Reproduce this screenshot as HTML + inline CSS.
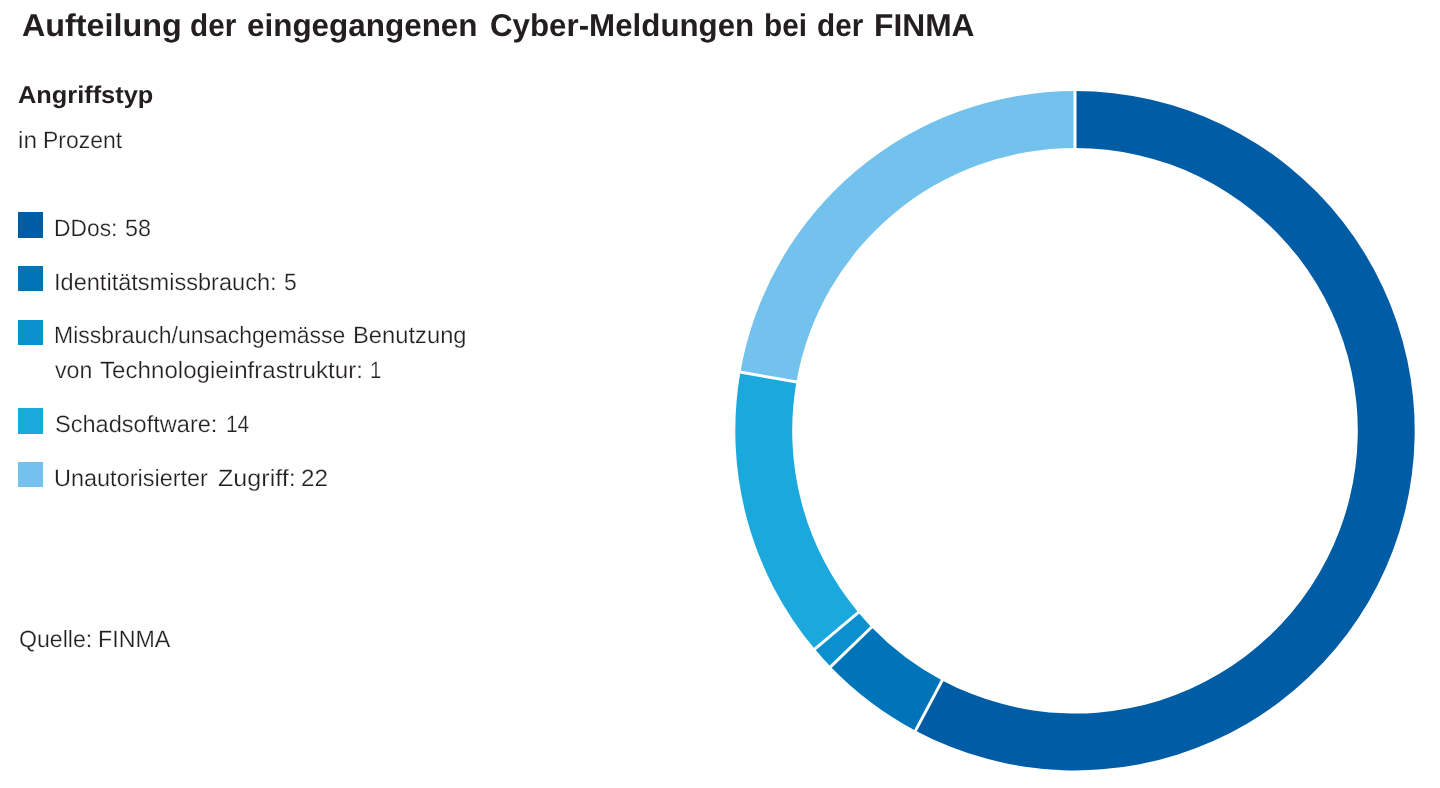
<!DOCTYPE html>
<html lang="de">
<head>
<meta charset="utf-8">
<title>Aufteilung der eingegangenen Cyber-Meldungen bei der FINMA</title>
<style>
html,body{margin:0;padding:0;background:#fff;}
body{width:1440px;height:788px;position:relative;overflow:hidden;color:#231f20;
  font-family:"Liberation Sans",sans-serif;text-rendering:geometricPrecision;}
.t{position:absolute;left:0;width:720px;height:40px;margin:0;white-space:nowrap;line-height:1;
  font-size:23.5px;font-weight:normal;}
.t span{position:absolute;top:0;transform-origin:0 0;white-space:nowrap;-webkit-text-stroke:0.25px #fff;paint-order:fill stroke;}
.tt span,.tb span{-webkit-text-stroke:0;}
.tt{font-size:31.5px;font-weight:bold;width:1000px;}
.tb{font-size:24.3px;font-weight:bold;}
.sw{position:absolute;left:18px;width:25px;height:25px;}
svg{position:absolute;left:0;top:0;}
</style>
</head>
<body>
<h1 class="t tt" id="title" style="top:10.0px"><span style="left:21.73px;transform:scaleX(1.0261)">Aufteilung</span> <span style="left:189.57px;transform:scaleX(0.9421)">der</span> <span style="left:247.00px;transform:scaleX(0.9978)">eingegangenen</span> <span style="left:489.51px;transform:scaleX(0.9933)">Cyber-Meldungen</span> <span style="left:764.36px;transform:scaleX(0.9458)">bei</span> <span style="left:816.57px;transform:scaleX(0.9421)">der</span> <span style="left:873.73px;transform:scaleX(1.0077)">FINMA</span></h1>
<div class="t tb" id="sub" style="top:84.0px"><span style="left:18.22px;transform:scaleX(1.0437)">Angriffstyp</span></div>
<div class="t" id="unit" style="top:128.8px"><span style="left:18.14px;transform:scaleX(1.0387)">in</span> <span style="left:43.29px;transform:scaleX(0.9779)">Prozent</span></div>
<div class="sw" style="top:212px;height:26px;background:#005CA4"></div>
<div class="t" id="l1" style="top:216.8px"><span style="left:54.26px;transform:scaleX(0.9714)">DDos:</span> <span style="left:125.41px;transform:scaleX(0.9938)">58</span></div>
<div class="sw" style="top:266px;height:25px;background:#0074B8"></div>
<div class="t" id="l2" style="top:270.8px"><span style="left:53.96px;transform:scaleX(1.0025)">Identitätsmissbrauch:</span> <span style="left:283.83px;transform:scaleX(0.9733)">5</span></div>
<div class="sw" style="top:320px;height:25px;background:#0A91CD"></div>
<div class="t" id="l3a" style="top:324.0px"><span style="left:54.09px;transform:scaleX(0.9783)">Missbrauch/unsachgemässe</span> <span style="left:352.53px;transform:scaleX(1.0105)">Benutzung</span></div>
<div class="t" id="l3b" style="top:359.0px"><span style="left:55.30px;transform:scaleX(0.9863)">von</span> <span style="left:100.29px;transform:scaleX(1.0268)">Technologieinfrastruktur:</span> <span style="left:369.99px;transform:scaleX(0.8600)">1</span></div>
<div class="sw" style="top:408px;height:26px;background:#1BA9DD"></div>
<div class="t" id="l4" style="top:412.9px"><span style="left:54.70px;transform:scaleX(1.0025)">Schadsoftware:</span> <span style="left:225.95px;transform:scaleX(0.8884)">14</span></div>
<div class="sw" style="top:462px;height:25px;background:#73C2EE"></div>
<div class="t" id="l5" style="top:466.7px"><span style="left:54.25px;transform:scaleX(0.9987)">Unautorisierter</span> <span style="left:217.50px;transform:scaleX(1.0686)">Zugriff:</span> <span style="left:301.27px;transform:scaleX(1.0333)">22</span></div>
<div class="t" id="src" style="top:627.8px"><span style="left:18.72px;transform:scaleX(0.9832)">Quelle:</span> <span style="left:97.77px;transform:scaleX(0.9895)">FINMA</span></div>
<svg width="1440" height="788" viewBox="0 0 1440 788">
<path d="M1075.00 91.00A339.7 339.7 0 1 1 915.52 730.64L942.23 680.40A282.8 282.8 0 1 0 1075.00 147.90Z" fill="#005CA4"/>
<path d="M915.52 730.64A339.7 339.7 0 0 1 830.64 666.68L871.57 627.15A282.8 282.8 0 0 0 942.23 680.40Z" fill="#0074B8"/>
<path d="M830.64 666.68A339.7 339.7 0 0 1 814.77 649.05L858.36 612.48A282.8 282.8 0 0 0 871.57 627.15Z" fill="#0A91CD"/>
<path d="M814.77 649.05A339.7 339.7 0 0 1 740.39 372.12L796.44 381.93A282.8 282.8 0 0 0 858.36 612.48Z" fill="#1BA9DD"/>
<path d="M740.39 372.12A339.7 339.7 0 0 1 1075.00 91.00L1075.00 147.90A282.8 282.8 0 0 0 796.44 381.93Z" fill="#73C2EE"/>
<line x1="1075.00" y1="149.90" x2="1075.00" y2="89.00" stroke="#fff" stroke-width="3"/>
<line x1="943.17" y1="678.63" x2="914.58" y2="732.40" stroke="#fff" stroke-width="3"/>
<line x1="873.01" y1="625.76" x2="829.20" y2="668.06" stroke="#fff" stroke-width="3"/>
<line x1="859.89" y1="611.19" x2="813.24" y2="650.34" stroke="#fff" stroke-width="3"/>
<line x1="798.41" y1="382.28" x2="738.42" y2="371.78" stroke="#fff" stroke-width="3"/>
</svg>
</body>
</html>
